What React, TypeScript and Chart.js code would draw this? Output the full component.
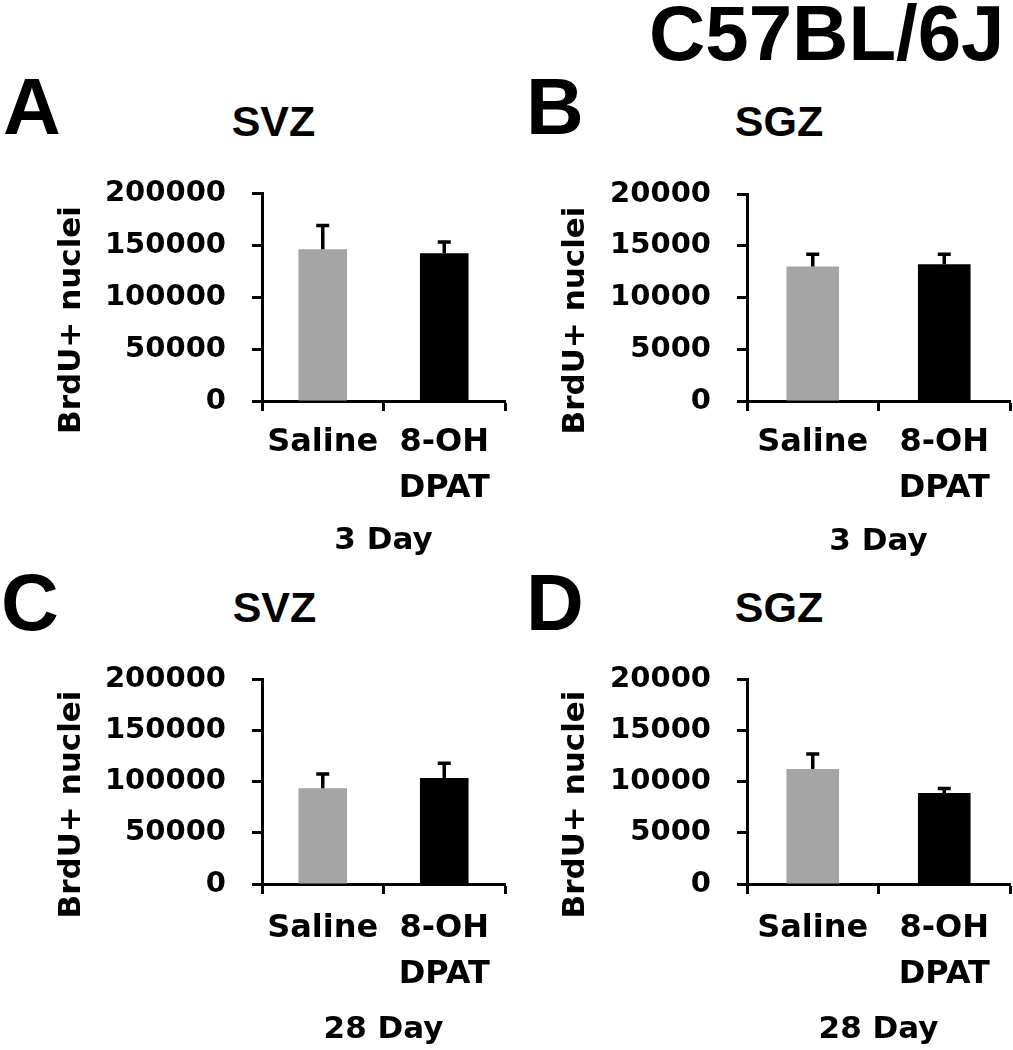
import React, { useEffect, useRef } from "react";
import { Chart, registerables } from "chart.js";

Chart.register(...registerables);

// ---------------- data ----------------
const categories: (string | string[])[] = ["Saline", ["8-OH", "DPAT"]];
const barColors = ["#a5a5a5", "#000000"];

const svz3Means = [146000, 142000];
const svz3Errors = [22700, 11000];
const sgz3Means = [12990, 13220];
const sgz3Errors = [1200, 970];
const svz28Means = [93500, 103300];
const svz28Errors = [13700, 14600];
const sgz28Means = [11210, 8870];
const sgz28Errors = [1470, 450];

const svzAxisMax = 200000;
const svzAxisStep = 50000;
const sgzAxisMax = 20000;
const sgzAxisStep = 5000;

const yAxisTitle = "BrdU+ nuclei";
const figureTitle = "C57BL/6J";
const panelLetters = ["A", "B", "C", "D"];
const regionNames = ["SVZ", "SGZ", "SVZ", "SGZ"];
const timeLabels = ["3 Day", "3 Day", "28 Day", "28 Day"];

// ---------------- styling ----------------
const TICK_FONT = "'DejaVu Sans', 'Liberation Sans', Arial, sans-serif";
const HEAD_FONT = "'Liberation Sans', Arial, Helvetica, sans-serif";

const errorBarPlugin = {
  id: "errorBars",
  afterDatasetsDraw(chart: any) {
    const { ctx } = chart;
    const y = chart.scales.y;
    chart.data.datasets.forEach((ds: any, di: number) => {
      const meta = chart.getDatasetMeta(di);
      const errs: number[] = ds.errors || [];
      meta.data.forEach((bar: any, i: number) => {
        const v = ds.data[i] as number;
        const e = errs[i] || 0;
        const yBase = y.getPixelForValue(v);
        const yTop = y.getPixelForValue(v + e);
        ctx.save();
        ctx.strokeStyle = "#000";
        ctx.lineWidth = 3.5;
        ctx.lineCap = "butt";
        ctx.beginPath();
        ctx.moveTo(bar.x, yBase);
        ctx.lineTo(bar.x, yTop);
        ctx.moveTo(bar.x - 6.5, yTop);
        ctx.lineTo(bar.x + 6.5, yTop);
        ctx.stroke();
        ctx.restore();
      });
    });
  },
};

const yTitlePlugin = {
  id: "yTitle",
  afterDraw(chart: any, _args: any, opts: any) {
    const { ctx, chartArea } = chart;
    ctx.save();
    ctx.font = `bold ${opts.size}px ${TICK_FONT}`;
    ctx.fillStyle = "#000";
    ctx.textAlign = "center";
    ctx.textBaseline = "middle";
    ctx.translate(opts.x, (chartArea.top + chartArea.bottom) / 2 + opts.dy);
    ctx.rotate(-Math.PI / 2);
    ctx.fillText(opts.text, 0, 0);
    ctx.restore();
  },
};

type PanelSpec = {
  means: number[];
  errors: number[];
  max: number;
  step: number;
  time: string;
  canvasLeft: number;
  chartLeft: number;
  chartRight: number;
  chartTop: number;
  chartBottom: number;
  xAxisH: number;
  xTickPad: number;
  padRight: number;
};

const panels: PanelSpec[] = [
  { means: svz3Means, errors: svz3Errors, max: svzAxisMax, step: svzAxisStep, time: timeLabels[0],
    canvasLeft: 54, chartLeft: 262, chartRight: 505, chartTop: 193, chartBottom: 401, xAxisH: 159, xTickPad: 8, padRight: 8 },
  { means: sgz3Means, errors: sgz3Errors, max: sgzAxisMax, step: sgzAxisStep, time: timeLabels[1],
    canvasLeft: 558, chartLeft: 747, chartRight: 1010, chartTop: 194, chartBottom: 401, xAxisH: 160, xTickPad: 8, padRight: 3 },
  { means: svz28Means, errors: svz28Errors, max: svzAxisMax, step: svzAxisStep, time: timeLabels[2],
    canvasLeft: 54, chartLeft: 262, chartRight: 505, chartTop: 679, chartBottom: 884, xAxisH: 165, xTickPad: 11, padRight: 8 },
  { means: sgz28Means, errors: sgz28Errors, max: sgzAxisMax, step: sgzAxisStep, time: timeLabels[3],
    canvasLeft: 558, chartLeft: 747, chartRight: 1010, chartTop: 679, chartBottom: 884, xAxisH: 165, xTickPad: 11, padRight: 3 },
];

const PAD_TOP = 25;

function Panel({ spec }: { spec: PanelSpec }) {
  const ref = useRef<HTMLCanvasElement | null>(null);
  const top = spec.chartTop - PAD_TOP;
  const width = spec.chartRight + spec.padRight - spec.canvasLeft;
  const height = spec.chartBottom + spec.xAxisH - top;

  useEffect(() => {
    if (!ref.current) return;
    const yAxisW = spec.chartLeft - spec.canvasLeft;
    const chart = new Chart(ref.current, {
      type: "bar",
      data: {
        labels: categories as any,
        datasets: [
          {
            data: spec.means,
            errors: spec.errors,
            backgroundColor: barColors,
            borderWidth: 0,
            barPercentage: 0.4,
            categoryPercentage: 1,
          } as any,
        ],
      },
      options: {
        animation: false,
        responsive: false,
        maintainAspectRatio: false,
        devicePixelRatio: 1,
        layout: { padding: { top: PAD_TOP, right: spec.padRight, left: 0, bottom: 0 } },
        plugins: {
          legend: { display: false },
          tooltip: { enabled: false },
          title: { display: false },
          yTitle: { text: yAxisTitle, x: 18, dy: 23, size: 31 },
        } as any,
        scales: {
          x: {
            type: "category",
            offset: true,
            z: 1,
            grid: {
              display: true,
              offset: true,
              drawOnChartArea: false,
              drawTicks: true,
              tickLength: 10,
              tickWidth: 3,
              tickColor: "#000",
            },
            border: { display: true, color: "#000", width: 3 },
            ticks: {
              color: "#000",
              font: { family: TICK_FONT, weight: "bold", size: 32, lineHeight: 1.46 },
              padding: spec.xTickPad,
              maxRotation: 0,
              minRotation: 0,
              autoSkip: false,
            },
            title: {
              display: true,
              text: spec.time,
              color: "#000",
              font: { family: TICK_FONT, weight: "bold", size: 31, lineHeight: 1.2 },
              padding: 0,
            },
            afterFit: (s: any) => {
              s.height = spec.xAxisH;
              s.paddingLeft = 0;
              s.paddingRight = 0;
            },
          },
          y: {
            min: 0,
            max: spec.max,
            z: 1,
            ticks: {
              stepSize: spec.step,
              callback: (v: any) => String(v),
              color: "#000",
              font: { family: TICK_FONT, weight: "bold", size: 29 },
              padding: 26,
            },
            grid: {
              display: true,
              drawOnChartArea: false,
              drawTicks: true,
              tickLength: 10,
              tickWidth: 3,
              tickColor: "#000",
            },
            border: { display: true, color: "#000", width: 3 },
            afterFit: (s: any) => {
              s.width = yAxisW;
              s.paddingTop = 0;
              s.paddingBottom = 0;
            },
          },
        } as any,
      },
      plugins: [errorBarPlugin, yTitlePlugin],
    });
    return () => chart.destroy();
  }, [spec]);

  return (
    <canvas
      ref={ref}
      width={width}
      height={height}
      style={{ position: "absolute", left: spec.canvasLeft, top }}
    />
  );
}

function Label({ text, left, top, size, width, align }: { text: string; left: number; top: number; size: number; width?: number; align?: "left" | "center" }) {
  return (
    <div
      style={{
        position: "absolute",
        left,
        top,
        width,
        textAlign: align || "left",
        fontFamily: HEAD_FONT,
        fontWeight: "bold",
        fontSize: size,
        lineHeight: `${size}px`,
        color: "#000",
        whiteSpace: "nowrap",
      }}
    >
      {text}
    </div>
  );
}

const letterPos = [
  { left: 3, top: 67 },
  { left: 526, top: 67 },
  { left: 1, top: 563 },
  { left: 526, top: 563 },
];
const regionPos = [
  { cx: 273.5, top: 100 },
  { cx: 779, top: 100 },
  { cx: 274.5, top: 586 },
  { cx: 779, top: 586 },
];

export default function App() {
  return (
    <div
      style={{
        position: "absolute",
        left: 0,
        top: 0,
        width: 1013,
        height: 1050,
        background: "#fff",
        overflow: "hidden",
      }}
    >
      <Label text={figureTitle} left={649} top={-6} size={78} />
      {panelLetters.map((l, i) => (
        <Label key={"l" + i} text={l} left={letterPos[i].left} top={letterPos[i].top} size={80} />
      ))}
      {regionNames.map((r, i) => (
        <Label key={"r" + i} text={r} left={regionPos[i].cx - 100} width={200} align="center" top={regionPos[i].top} size={43} />
      ))}
      {panels.map((p, i) => (
        <Panel key={i} spec={p} />
      ))}
    </div>
  );
}
